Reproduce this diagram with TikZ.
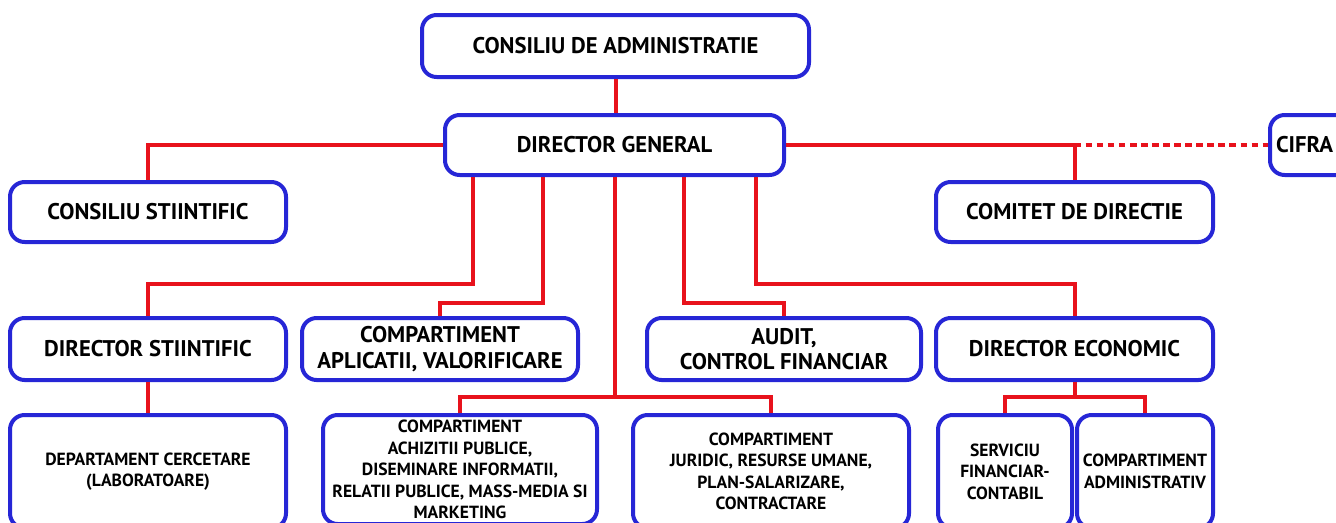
\documentclass[tikz,border=0pt]{standalone}
\usepackage{fontspec}
\setmainfont{PT Sans}
\usetikzlibrary{calc}
\definecolor{bblue}{RGB}{38,38,214}
\definecolor{lred}{RGB}{232,18,28}
\tikzset{
  box/.style={draw=bblue, line width=3pt, rounded corners=11pt, fill=white,
    align=center, inner sep=0pt, font=\bfseries\fontsize{17}{19}\selectfont},
  lowbox/.style={box, font=\bfseries\fontsize{13.2}{16.1}\selectfont},
  conn/.style={draw=lred, line width=3pt},
  dots/.style={draw=lred, line width=3pt, dash pattern=on 5pt off 3.3pt}
}
\begin{document}
\begin{tikzpicture}[x=0.75pt,y=-0.75pt]
\useasboundingbox (0,0) rectangle (1336,522);
\clip (0,0) rectangle (1336,522);
% top
\node[box, minimum width=290.25pt, minimum height=46.5pt] (CA) at (615.5,46) {CONSILIU DE ADMINISTRATIE};
\node[box, minimum width=254.25pt, minimum height=45pt] (DG) at (614.5,145) {DIRECTOR GENERAL};
\node[box, minimum width=207pt, minimum height=45pt] (CS) at (148,212) {CONSILIU STIINTIFIC};
\node[box, minimum width=207.75pt, minimum height=45pt] (CD) at (1074.5,212) {COMITET DE DIRECTIE};
\node[box, minimum width=150pt, minimum height=45pt, text width=141pt, align=left] (CF) at (1370,145) {CIFRA};
% middle row
\node[box, minimum width=207pt, minimum height=46.5pt] (DS) at (148,349) {DIRECTOR STIINTIFIC};
\node[box, minimum width=207pt, minimum height=46.5pt] (CAV) at (440,349) {COMPARTIMENT\\APLICATII, VALORIFICARE};
\node[box, minimum width=205.5pt, minimum height=46.5pt] (AUD) at (784,349) {AUDIT,\\CONTROL FINANCIAR};
\node[box, minimum width=207.75pt, minimum height=46.5pt] (DE) at (1074.5,349) {DIRECTOR ECONOMIC};
% bottom row
\node[lowbox, minimum width=207pt, minimum height=84.75pt] (DC) at (148,471.5) {DEPARTAMENT CERCETARE\\(LABORATOARE)};
\node[lowbox, minimum width=205.5pt, minimum height=81.75pt] (ACH) at (460,469.5) {COMPARTIMENT\\ACHIZITII PUBLICE,\\DISEMINARE INFORMATII,\\RELATII PUBLICE, MASS-MEDIA SI\\MARKETING};
\node[lowbox, minimum width=207pt, minimum height=84.75pt] (JUR) at (771,471.5) {COMPARTIMENT\\JURIDIC, RESURSE UMANE,\\PLAN-SALARIZARE,\\CONTRACTARE};
\node[lowbox, minimum width=100.5pt, minimum height=84.75pt] (SFC) at (1005,471.5) {SERVICIU\\FINANCIAR-\\CONTABIL};
\node[lowbox, minimum width=102pt, minimum height=84.75pt] (ADM) at (1145,471.5) {COMPARTIMENT\\ADMINISTRATIV};
% bus points
\coordinate (busA) at (614.5,397);
\coordinate (busB) at (1074.5,397);
\coordinate (cdj) at (1074.5,145);
% connectors
\draw[conn] (CA.south) -- (CA.south |- DG.north);
\draw[conn] (DG.west) -| (CS.north);
\draw[conn] (DG.east) -- (cdj) -- (CD.north);
\draw[dots] (cdj) -- (CF.west);
\draw[conn] ($(DG.south)+(-141.5,0)$) -- ++(0,107) -| (DS.north);
\draw[conn] ($(DG.south)+(-71.5,0)$) -- ++(0,126) -| (CAV.north);
\draw[conn] (DG.south) -- (busA);
\draw[conn] ($(DG.south)+(69.5,0)$) -- ++(0,126) -| (AUD.north);
\draw[conn] ($(DG.south)+(141.5,0)$) -- ++(0,107) -| (DE.north);
\draw[conn] (ACH.north) |- (busA) -| (JUR.north);
\draw[conn] (DS.south) -- (DC.north);
\draw[conn] (DE.south) -- (busB);
\draw[conn] (SFC.north) |- (busB) -| (ADM.north);
\end{tikzpicture}
\end{document}
